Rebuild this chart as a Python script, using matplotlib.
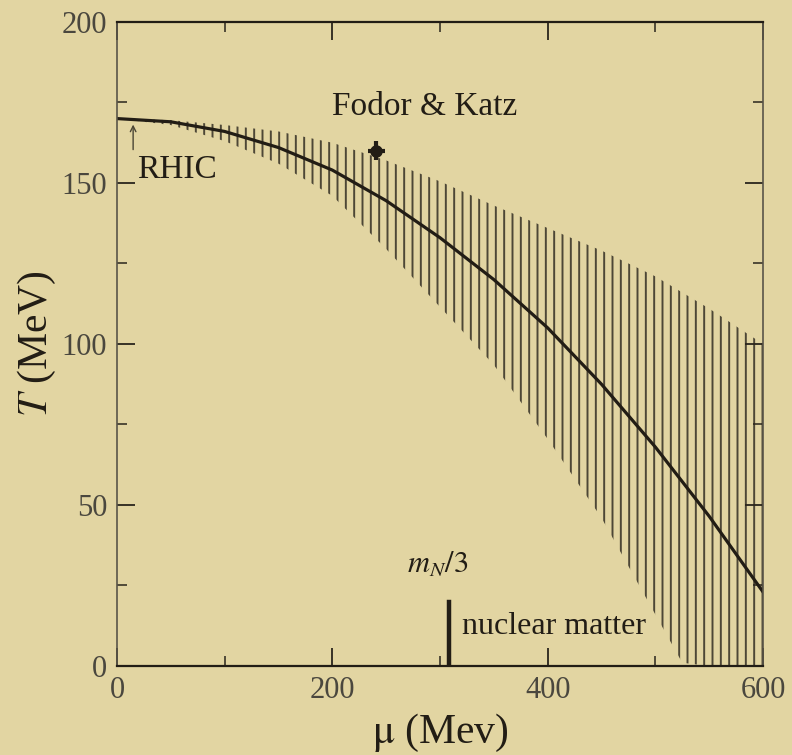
import matplotlib
matplotlib.use("Agg")
import matplotlib.pyplot as plt

# crossover line T(mu) and its uncertainty band
mu_curve = [0, 50, 100, 150, 200, 250, 300, 350, 400, 450, 500, 550, 600]
T_curve = [170, 169, 166, 161, 154, 144.5, 133, 120, 105, 87.5, 68, 46.5, 23]

mu_band = [0, 50, 100, 150, 200, 250, 300, 350, 400, 450, 500, 525, 550, 600]
T_upper = [170, 169.5, 168, 166, 162.5, 157, 150.5, 143, 136, 129, 121, 116, 111, 100]
T_lower = [170, 168, 163, 156, 146, 129.5, 111.5, 93.5, 70.5, 46, 16, 1, 0, 0]

# lattice point
fk_mu, fk_T = 241, 160
fk_mu_err, fk_T_err = 8, 3

# nuclear matter marker
nm_mu = 308
nm_T = [0, 20]

bg = "#e2d5a2"
ink = "#221d15"

plt.rcParams["font.family"] = ["Liberation Serif", "DejaVu Serif"]
plt.rcParams["mathtext.fontset"] = "stix"
plt.rcParams["hatch.linewidth"] = 1.4

fig = plt.figure(figsize=(7.92, 7.55), dpi=100, facecolor=bg)
ax = fig.add_axes([0.1477, 0.1179, 0.8157, 0.853], facecolor=bg)

ax.fill_between(mu_band, T_lower, T_upper, facecolor="none",
                edgecolor="#4d4736", hatch="||", linewidth=0)
ax.plot(mu_curve, T_curve, color=ink, lw=2.3)

ax.errorbar(fk_mu, fk_T, xerr=fk_mu_err, yerr=fk_T_err, fmt="o",
            color=ink, ms=8, elinewidth=3, capsize=0)
ax.text(200, 171, "Fodor & Katz", fontsize=24, color=ink)

ax.annotate("", xy=(15, 169), xytext=(15, 159.5),
            arrowprops=dict(arrowstyle="->", color="#4a4535", lw=1))
ax.text(19, 151.5, "RHIC", fontsize=24, color=ink)

ax.plot([nm_mu, nm_mu], nm_T, color=ink, lw=3.2)
ax.text(269, 29, r"$m_N/3$", fontsize=22, color=ink)
ax.text(320, 10, "nuclear matter", fontsize=23, color=ink)

ax.set_xlim(0, 600)
ax.set_ylim(0, 200)
ax.set_xticks([0, 200, 400, 600])
ax.set_xticks([100, 300, 500], minor=True)
ax.set_yticks([0, 50, 100, 150, 200])
ax.set_yticks([25, 75, 125, 175], minor=True)

ax.tick_params(which="both", direction="in", top=True, right=True,
               color="#2a251c", labelcolor="#4a473e", labelsize=22, pad=7)
ax.tick_params(which="major", length=13, width=1.3)
ax.tick_params(which="minor", length=7, width=1.1)

for side in ["top", "bottom"]:
    ax.spines[side].set_color(ink)
    ax.spines[side].set_linewidth(1.6)
for side in ["left", "right"]:
    ax.spines[side].set_color("#5a5548")
    ax.spines[side].set_linewidth(1.2)

ax.set_xlabel(r"$\mathrm{\mu}$ (Mev)", fontsize=30, color=ink)
ax.set_ylabel(r"$T$ (MeV)", fontsize=30, color=ink)
ax.xaxis.set_label_coords(0.5, -0.072)
ax.yaxis.set_label_coords(-0.092, 0.5)

fig.savefig("out.png", dpi=100, facecolor=bg)
